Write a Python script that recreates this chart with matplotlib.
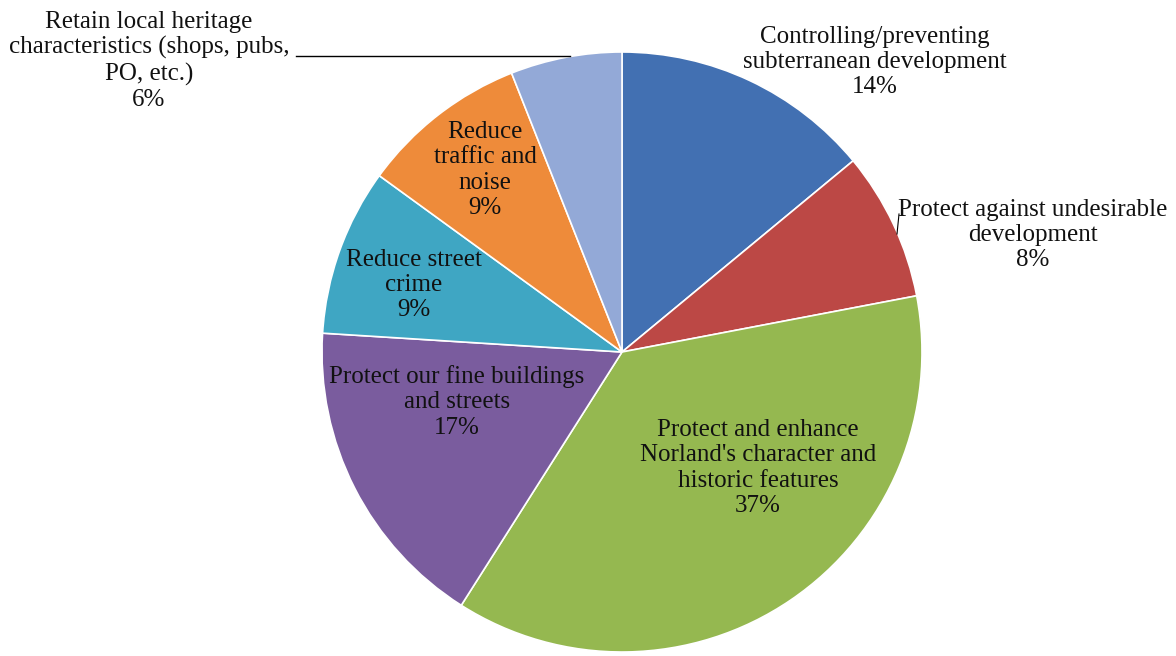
from matplotlib import pyplot as plt

W, H = 1176, 656

labels = [
    'Controlling/preventing\nsubterranean development\n14%',
    'Protect against undesirable\ndevelopment\n8%',
    "Protect and enhance\nNorland's character and\nhistoric features\n37%",
    'Protect our fine buildings\nand streets\n17%',
    'Reduce street\ncrime\n9%',
    'Reduce\ntraffic and\nnoise\n9%',
    'Retain local heritage\ncharacteristics (shops, pubs,\nPO, etc.)\n6%',
]
shares = [14, 8, 37, 17, 9, 9, 6]
colors = ['#4270B2', '#BC4845', '#95B850', '#7A5C9E', '#3FA6C3', '#EE8B3A', '#93A9D7']

# label centres in pixels from the top-left corner
label_pos = [(875, 62), (1033, 235), (758, 468), (457, 402), (414, 285), (485, 170), (149, 61)]

plt.rcParams['font.family'] = ['Liberation Serif', 'DejaVu Serif']

fig = plt.figure(figsize=(W / 100, H / 100), dpi=100)
ax = fig.add_axes([0, 0, 1, 1])

ax.pie(shares, colors=colors, startangle=90, counterclock=False,
       center=(622, H - 352), radius=300,
       wedgeprops=dict(edgecolor='white', linewidth=1.2))

for text, (x, y) in zip(labels, label_pos):
    ax.text(x, H - y, text, ha='center', va='center', fontsize=18,
            linespacing=1.2, color='#111111')

# leader lines
ax.plot([296, 570], [H - 56, H - 56], color='black', linewidth=1)
ax.plot([899, 897], [H - 214, H - 234], color='black', linewidth=0.8)

ax.set_xlim(0, W)
ax.set_ylim(0, H)
ax.set_aspect('auto')
ax.axis('off')

fig.savefig('out.png', dpi=100, facecolor='white')
